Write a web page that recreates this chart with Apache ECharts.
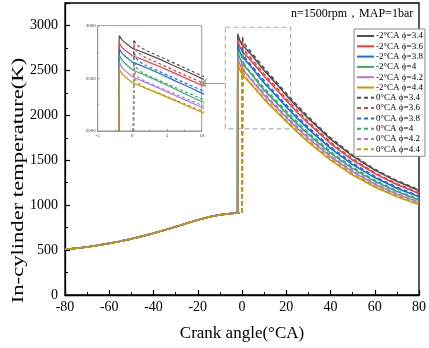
<!DOCTYPE html>
<html><head><meta charset="utf-8">
<script src="https://cdn.jsdelivr.net/npm/echarts@6/dist/echarts.min.js"></script>
<style>html,body{margin:0;padding:0;background:#fff}#c{width:429px;height:348px}</style>
</head><body><div id="c"></div>
<script>
// ---- data ----
const compression = [[-80,510],[-75,520],[-70,535],[-65,553],[-60,575],[-55,598],[-50,625],[-45,655],[-40,688],[-35,723],[-30,760],[-25,798],[-20,835],[-15,868],[-10,893],[-5,907],[-2,912]];
const compressionTail = [[-1,914],[0.1,915]];
const angleSolid = [-1.9,-1.5,-1,0,1,2,4,6,8,10,15,20,25,30,40,50,60,70,80];
const angleDashed = [0.2,0.5,1,2,4,6,8,10,15,20,25,30,40,50,60,70,80];
const solid34 = [2905,2865,2835,2785,2760,2735,2680,2620,2560,2500,2365,2225,2090,1965,1735,1545,1390,1265,1163];
const solid36 = [2835,2793,2764,2715,2691,2664,2610,2552,2493,2435,2301,2165,2031,1910,1686,1502,1351,1230,1130];
const solid38 = [2782,2739,2707,2654,2628,2601,2543,2481,2422,2360,2228,2094,1965,1847,1631,1452,1307,1189,1093];
const solid40 = [2721,2673,2639,2582,2553,2524,2466,2403,2340,2280,2155,2025,1902,1788,1579,1406,1265,1151,1058];
const solid42 = [2652,2604,2571,2515,2487,2459,2401,2342,2284,2225,2102,1976,1854,1743,1539,1370,1233,1122,1032];
const solid44 = [2589,2544,2512,2459,2432,2404,2350,2293,2235,2178,2055,1931,1812,1702,1501,1336,1202,1094,1006];
const dashed34 = [2870,2830,2800,2765,2705,2645,2585,2525,2385,2245,2110,1982,1750,1558,1400,1273,1170];
const dashed36 = [2830,2770,2735,2695,2637,2578,2519,2460,2324,2186,2053,1928,1702,1515,1361,1238,1138];
const dashed38 = [2760,2695,2660,2620,2562,2503,2444,2386,2250,2116,1989,1867,1649,1468,1319,1199,1102];
const dashed40 = [2690,2610,2573,2533,2476,2419,2362,2305,2175,2047,1924,1807,1596,1421,1277,1161,1067];
const dashed42 = [2620,2540,2503,2466,2411,2356,2301,2246,2120,1994,1874,1760,1554,1383,1243,1130,1039];
const dashed44 = [2560,2480,2445,2408,2355,2300,2246,2193,2067,1944,1827,1716,1515,1349,1212,1102,1013];
const solidNames = ['-2°CA ϕ=3.4','-2°CA ϕ=3.6','-2°CA ϕ=3.8','-2°CA ϕ=4','-2°CA ϕ=4.2','-2°CA ϕ=4.4'];
const dashedNames = ['0°CA ϕ=3.4','0°CA ϕ=3.6','0°CA ϕ=3.8','0°CA ϕ=4','0°CA ϕ=4.2','0°CA ϕ=4.4'];
const xTicks = {min:-80, max:80, interval:20};
const yTicks = {min:0, max:3250, interval:500};
const insetX = {min:-5, max:10, interval:5};
const insetY = {min:2000, max:3000, interval:500};
const zoomBox = [[-7.5, 2980], [22, 1850]];
const arrowLine = [[-7.5, 2360], [-19, 2360]];
const colors = ['#515151','#F14040','#1A6FDF','#37AD6B','#B177DE','#CC9900'];

// ---- build ----
const serif = 'Liberation Serif';
const solids = [solid34, solid36, solid38, solid40, solid42, solid44];
const dasheds = [dashed34, dashed36, dashed38, dashed40, dashed42, dashed44];
const defs = [];
solids.forEach((arr, i) => defs.push({
  name: solidNames[i], color: colors[i], dashed: false,
  data: compression.concat(angleSolid.map((a, k) => [a, arr[k]]))
}));
dasheds.forEach((arr, i) => defs.push({
  name: dashedNames[i], color: colors[i], dashed: true,
  data: compression.concat(compressionTail, angleDashed.map((a, k) => [a, arr[k]]))
}));

const series = [];
defs.forEach((d, idx) => {
  const s = {
    type: 'line', name: d.name, xAxisIndex: 0, yAxisIndex: 0, data: d.data,
    symbol: 'none', showSymbol: false, animation: false, clip: true,
    itemStyle: {color: d.color},
    lineStyle: {color: d.color, width: 1.6, type: d.dashed ? [4, 3] : 'solid'}
  };
  if (idx === 0) {
    s.markArea = {silent: true, itemStyle: {color: 'rgba(0,0,0,0)', borderColor: '#b0b0b0', borderWidth: 1.2, borderType: [5, 3]},
      data: [[{coord: zoomBox[0]}, {coord: zoomBox[1]}]]};
    s.markLine = {silent: true, symbol: ['none', 'arrow'], symbolSize: 7, label: {show: false},
      lineStyle: {color: '#a0a0a0', width: 1, type: 'solid'},
      data: [[{coord: arrowLine[0]}, {coord: arrowLine[1]}]]};
  }
  series.push(s);
});
defs.forEach((d) => {
  series.push({
    type: 'line', name: d.name, xAxisIndex: 1, yAxisIndex: 1, data: d.data,
    symbol: 'none', showSymbol: false, animation: false, clip: true, z: 5,
    itemStyle: {color: d.color},
    lineStyle: {color: d.color, width: 1.2, type: d.dashed ? [3, 2.5] : 'solid'}
  });
});

const plain = (v) => String(v);
const mainAxis = (t) => ({
  type: 'value', min: t.min, max: t.max, interval: t.interval,
  axisLine: {show: true, onZero: false, lineStyle: {color: '#000', width: 1.3}},
  axisTick: {show: true, inside: true, length: 5, lineStyle: {color: '#000', width: 1.2}},
  minorTick: {show: true, splitNumber: 2, length: 3, lineStyle: {color: '#000', width: 1}},
  splitLine: {show: false},
  axisLabel: {fontFamily: serif, fontSize: 14, color: '#000', formatter: plain}
});
const insetAxis = (t) => ({
  type: 'value', gridIndex: 1, min: t.min, max: t.max, interval: t.interval,
  axisLine: {show: true, onZero: false, lineStyle: {color: '#999', width: 1}},
  axisTick: {show: true, inside: true, length: 2, lineStyle: {color: '#888', width: 0.8}},
  minorTick: {show: true, splitNumber: 2, length: 1.5, lineStyle: {color: '#888', width: 0.8}},
  splitLine: {show: false},
  axisLabel: {fontFamily: serif, fontSize: 5, color: '#333', margin: 2, formatter: plain}
});

const xMain = mainAxis(xTicks);
xMain.axisLabel.margin = 5;
xMain.name = 'Crank angle(°CA)';
xMain.nameLocation = 'middle';
xMain.nameGap = 30;
xMain.nameTextStyle = {fontFamily: serif, fontSize: 17, color: '#000'};
const yMain = mainAxis(yTicks);
yMain.axisLabel.margin = 7;
yMain.axisLabel.showMaxLabel = false;

const chart = echarts.init(document.getElementById('c'), null, {renderer: 'canvas'});
chart.setOption({
  animation: false,
  backgroundColor: '#fff',
  title: {text: 'n=1500rpm，MAP=1bar', left: 291, top: 8, padding: 0,
    textStyle: {fontFamily: serif, fontSize: 12, fontWeight: 'normal', color: '#000'}},
  legend: {
    orient: 'vertical', left: 354, top: 29, padding: [2, 2, 2, 2],
    itemWidth: 17, itemHeight: 10, itemGap: 0.3,
    backgroundColor: '#fff', borderColor: '#888', borderWidth: 1,
    itemStyle: {color: 'rgba(0,0,0,0)', borderWidth: 0, opacity: 0},
    textStyle: {fontFamily: serif, fontSize: 9, color: '#000', lineHeight: 10, padding: [0, 0, 0, -3]},
    data: solidNames.concat(dashedNames)
  },
  grid: [
    {left: 65, right: 4, top: 3, bottom: 53, show: true, borderColor: '#000', borderWidth: 1.3},
    {left: 97.7, top: 25.7, width: 104, height: 105.3, show: true, borderColor: '#999', borderWidth: 1, backgroundColor: '#fff'}
  ],
  xAxis: [xMain, insetAxis(insetX)],
  yAxis: [yMain, insetAxis(insetY)],
  graphic: [{
    type: 'text', x: 18.5, y: 180.5, rotation: Math.PI / 2, scaleX: 1.33,
    style: {text: 'In-cylinder temperature(K)', fontFamily: serif, fontSize: 17, fill: '#000', align: 'center', verticalAlign: 'middle'}
  }],
  series: series
});
</script></body></html>
